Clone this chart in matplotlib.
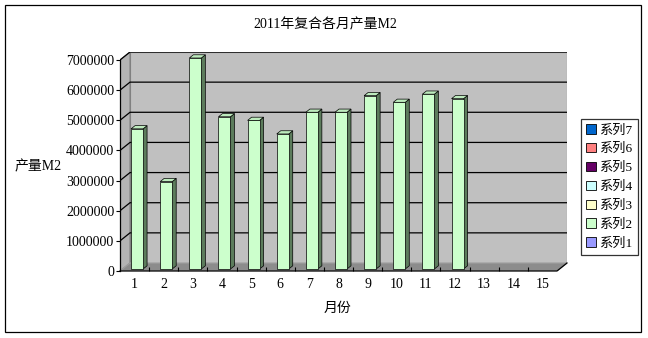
import numpy as np
import matplotlib
matplotlib.use("Agg")
import matplotlib.pyplot as plt
from matplotlib.patches import Polygon, Rectangle, Patch

# ----------- data ------------
months = list(range(1, 16))
output_m2 = [4650000, 2900000, 7000000, 5050000, 4930000, 4480000,
             5200000, 5200000, 5750000, 5530000, 5800000, 5650000]
y_ticks = [0, 1000000, 2000000, 3000000, 4000000, 5000000, 6000000, 7000000]
series_names = ["系列7", "系列6", "系列5", "系列4", "系列3", "系列2", "系列1"]
series_colors = ["#0066CC", "#FF8080", "#660066", "#CCFFFF", "#FFFFCC", "#CCFFCC", "#9999FF"]
# -----------------------------

FONT = ["Liberation Serif", "Noto Sans CJK SC"]
W, H = 648, 338
fig = plt.figure(figsize=(W / 100, H / 100), dpi=100)
fig.patch.set_facecolor("white")

# outer frame
fig.patches.append(Rectangle((5 / W, 1 - 332 / H), 636 / W, 327 / H, transform=fig.transFigure,
                             fill=False, edgecolor="black", lw=0.9))

# plot box in pixels: front plane x 120..557, y 271(0)..60(7e6); back offset +10px, -8px
left_px, right_px, top_px, bot_px = 120, 567, 52, 271
ax = fig.add_axes([left_px / W, 1 - bot_px / H, (right_px - left_px) / W, (bot_px - top_px) / H])
ymax = y_ticks[-1]
xs_px = 437 / 15.0
ys_px = 211 / ymax
ddx = 10 / xs_px
ddy = 8 / ys_px
x0, x1 = 0.5, 15.5
ax.set_xlim(x0, x1 + ddx)
ax.set_ylim(0, ymax + ddy)
ax.set_facecolor("none")
for s in ax.spines.values():
    s.set_visible(False)

wall = "#C0C0C0"
# back wall
ax.add_patch(Polygon([(x0 + ddx, ddy), (x1 + ddx, ddy), (x1 + ddx, ymax + ddy), (x0 + ddx, ymax + ddy)],
                     closed=True, facecolor=wall, edgecolor="#808080", lw=0.8, zorder=1))
# side wall
ax.add_patch(Polygon([(x0, 0), (x0 + ddx, ddy), (x0 + ddx, ymax + ddy), (x0, ymax)],
                     closed=True, facecolor="#B4B4B4", edgecolor="#808080", lw=0.8, zorder=1))
# floor
ax.add_patch(Polygon([(x0, 0), (x1, 0), (x1 + ddx, ddy), (x0 + ddx, ddy)],
                     closed=True, facecolor="#8C8C8C", edgecolor="#A0A0A0", lw=0.8, zorder=1))

# gridlines
for t in y_ticks[1:]:
    ax.plot([x0, x0 + ddx, x1 + ddx], [t, t + ddy, t + ddy], color="black", lw=0.9, zorder=2)

# front axes lines
ax.plot([x0, x0], [0, ymax], color="black", lw=0.9, zorder=6, clip_on=False)
ax.plot([x0, x1, x1 + ddx], [0, 0, ddy], color="black", lw=0.9, zorder=6, clip_on=False)

# 3d bars
bw = 12 / xs_px
f, d = 0.25, 0.4
ox, oy = f * ddx, f * ddy
dx, dy = d * ddx, d * ddy
for m, v in zip(months, output_m2):
    xl = m - bw / 2 + ox
    xr = m + bw / 2 + ox
    front = [(xl, oy), (xr, oy), (xr, v + oy), (xl, v + oy)]
    side = [(xr, oy), (xr + dx, oy + dy), (xr + dx, v + oy + dy), (xr, v + oy)]
    top = [(xl, v + oy), (xr, v + oy), (xr + dx, v + oy + dy), (xl + dx, v + oy + dy)]
    ax.add_patch(Polygon(side, closed=True, facecolor="#5C7C5C", edgecolor="black", lw=0.5, zorder=4))
    ax.add_patch(Polygon(top, closed=True, facecolor="#BDEBBD", edgecolor="black", lw=0.5, zorder=4))
    ax.add_patch(Polygon(front, closed=True, facecolor="#CCFFCC", edgecolor="black", lw=0.5, zorder=5))

# ticks
ax.set_yticks(y_ticks)
ax.set_yticklabels([str(t) for t in y_ticks], family=FONT, fontsize=10)
ax.tick_params(axis="y", direction="out", length=3, width=0.8, pad=1)
ax.set_xticks(months)
ax.set_xticklabels([str(m) for m in months], family=FONT, fontsize=10)
ax.set_xticks([m + 0.5 for m in months[:-1]], minor=True)
ax.tick_params(axis="x", which="major", length=0, pad=5)
ax.tick_params(axis="x", which="minor", direction="in", length=3, width=0.8)

# texts
fig.text(325 / W, 1 - 25 / H, "2011年复合各月产量M2", ha="center", va="center", family=FONT, fontsize=10)
fig.text(38 / W, 1 - 167 / H, "产量M2", ha="center", va="center", family=FONT, fontsize=10)
fig.text(337 / W, 1 - 308 / H, "月份", ha="center", va="center", family=FONT, fontsize=10)

# legend
handles = [Patch(facecolor=c, edgecolor="black", lw=0.6) for c in series_colors]
leg = fig.legend(handles, series_names, loc="upper left",
                 bbox_to_anchor=(581 / W, 1 - 119 / H), bbox_transform=fig.transFigure,
                 prop={"family": FONT, "size": 9.5}, frameon=True, fancybox=False,
                 edgecolor="black", borderpad=0.4, labelspacing=0.5,
                 handlelength=0.7, handleheight=0.7, handletextpad=0.3, borderaxespad=0)
leg.get_frame().set_linewidth(0.9)

fig.savefig("out.png", dpi=100, facecolor="white")
